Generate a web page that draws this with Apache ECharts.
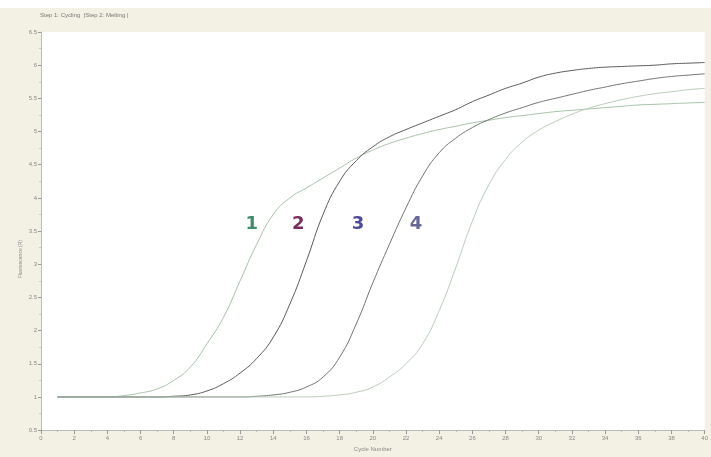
<!DOCTYPE html>
<html>
<head>
<meta charset="utf-8">
<script src="https://cdn.jsdelivr.net/npm/echarts@6/dist/echarts.min.js"></script>
<style>
  html, body { margin: 0; padding: 0; background: #f3f1e3; }
  #chart { width: 711px; height: 457px; }
</style>
</head>
<body>
<div id="chart"></div>
<script>
// cycles 1..40
let cycles = [];
for (let i = 1; i <= 40; i++) cycles.push(i);

let curve1 = [1.0, 1.0, 1.0, 1.0, 1.02, 1.06, 1.12, 1.25, 1.45, 1.8,
              2.2, 2.75, 3.3, 3.75, 4.0, 4.15, 4.3, 4.45, 4.6, 4.72,
              4.82, 4.9, 4.97, 5.03, 5.08, 5.13, 5.17, 5.21, 5.24, 5.27,
              5.3, 5.32, 5.34, 5.36, 5.38, 5.4, 5.41, 5.42, 5.43, 5.44];
let curve2 = [1.0, 1.0, 1.0, 1.0, 1.0, 1.0, 1.0, 1.01, 1.03, 1.09,
              1.2, 1.36, 1.58, 1.9, 2.4, 3.05, 3.75, 4.25, 4.56, 4.77,
              4.92, 5.03, 5.13, 5.23, 5.33, 5.45, 5.55, 5.65, 5.73, 5.82,
              5.88, 5.92, 5.95, 5.97, 5.98, 5.99, 6.0, 6.02, 6.03, 6.04];
let curve3 = [1.0, 1.0, 1.0, 1.0, 1.0, 1.0, 1.0, 1.0, 1.0, 1.0,
              1.0, 1.0, 1.01, 1.03, 1.07, 1.15, 1.3, 1.6, 2.1, 2.72,
              3.3, 3.85, 4.33, 4.68, 4.9, 5.06, 5.18, 5.28, 5.36, 5.44,
              5.5, 5.56, 5.62, 5.67, 5.72, 5.76, 5.8, 5.83, 5.85, 5.87];
let curve4 = [1.0, 1.0, 1.0, 1.0, 1.0, 1.0, 1.0, 1.0, 1.0, 1.0,
              1.0, 1.0, 1.0, 1.0, 1.0, 1.0, 1.01, 1.03, 1.07, 1.15,
              1.3, 1.5, 1.8, 2.3, 2.95, 3.65, 4.2, 4.58, 4.84, 5.02,
              5.15, 5.26, 5.35, 5.42, 5.48, 5.53, 5.57, 5.6, 5.63, 5.65];

let curveNames = ['1', '2', '3', '4'];
let curveColors = ['#a7c2a8', '#5a5a5a', '#6f776f', '#b9cdb9'];
let labelColors = ['#3d8c6c', '#7a2d5c', '#4a4a96', '#66669a'];
let labelCycles = [12.7, 15.5, 19.1, 22.6];
let labelLevels = [3.6, 3.6, 3.6, 3.6];

let curves = [curve1, curve2, curve3, curve4];

let series = curves.map((c, i) => ({
    name: curveNames[i],
    type: 'line',
    smooth: true,
    showSymbol: false,
    data: c.map((v, j) => [cycles[j], v]),
    lineStyle: { width: 1, color: curveColors[i] },
    itemStyle: { color: curveColors[i] },
    markPoint: {
        symbol: 'circle',
        symbolSize: 1,
        itemStyle: { color: 'rgba(0,0,0,0)' },
        label: {
            show: true,
            position: 'inside',
            formatter: curveNames[i],
            color: labelColors[i],
            fontSize: 18,
            fontWeight: 'bold',
            fontFamily: 'DejaVu Sans'
        },
        data: [{ coord: [labelCycles[i], labelLevels[i]] }]
    }
}));

let chart = echarts.init(document.getElementById('chart'));

chart.setOption({
    backgroundColor: '#f3f1e3',
    animation: false,
    graphic: [
        { type: 'rect', left: 0, top: 0, shape: { width: 711, height: 8 }, style: { fill: '#ffffff' } },
        { type: 'text', left: 40, top: 12,
          style: { text: 'Step 1: Cycling  |Step 2: Melting |', fill: '#777', font: '6px sans-serif' } },
        { type: 'text', left: 18, top: 240, rotation: Math.PI / 2,
          style: { text: 'Fluorescence (R)', fill: '#888', font: '5px sans-serif' } }
    ],
    grid: {
        left: 41, right: 5, top: 32, bottom: 24,
        show: true, backgroundColor: '#ffffff', borderWidth: 0
    },
    xAxis: {
        type: 'value',
        min: 0, max: 40, interval: 2,
        name: 'Cycle Number',
        nameLocation: 'middle',
        nameGap: 15,
        nameTextStyle: { fontSize: 6, color: '#888' },
        axisLine: { lineStyle: { color: '#bbb' } },
        axisTick: { length: 4, lineStyle: { color: '#999' } },
        minorTick: { show: true, splitNumber: 2, length: 2, lineStyle: { color: '#bbb' } },
        axisLabel: { fontSize: 6, color: '#888', margin: 5 },
        splitLine: { show: false }
    },
    yAxis: {
        type: 'value',
        min: 0.5, max: 6.5, interval: 0.5,
        axisLine: { show: true, lineStyle: { color: '#bbb' } },
        axisTick: { show: true, length: 3, lineStyle: { color: '#999' } },
        minorTick: { show: true, splitNumber: 2, length: 2, lineStyle: { color: '#ccc' } },
        axisLabel: { fontSize: 6, color: '#888', margin: 4 },
        splitLine: { show: false }
    },
    series: series
});
</script>
</body>
</html>
